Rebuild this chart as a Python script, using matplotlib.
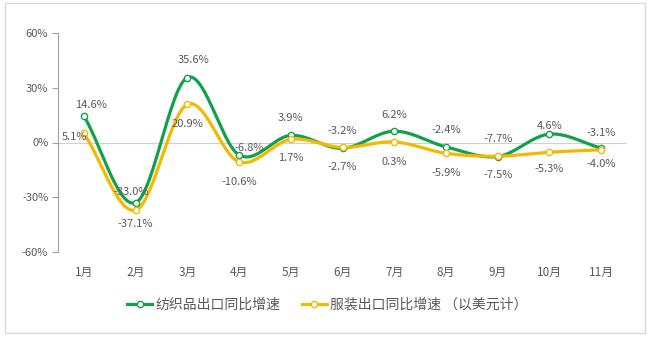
import numpy as np
import matplotlib.pyplot as plt
from matplotlib.patches import Rectangle

plt.rcParams['font.family'] = ['Noto Sans CJK SC', 'DejaVu Sans']

months = ['1月', '2月', '3月', '4月', '5月', '6月', '7月', '8月', '9月', '10月', '11月']
textile = [14.6, -33.0, 35.6, -6.8, 3.9, -3.2, 6.2, -2.4, -7.7, 4.6, -3.1]
apparel = [5.1, -37.1, 20.9, -10.6, 1.7, -2.7, 0.3, -5.9, -7.5, -5.3, -4.0]

# label offsets in pixels (dx, dy) for each point
textile_off = [(7, 11), (-4, 11), (6, 18), (10, 7), (0, 17), (0, 17),
               (0, 16), (0, 17), (0, 18), (0, 8), (0, 15)]
apparel_off = [(-9, -4), (0, -14), (0, -20), (0, -20), (0, -19), (0, -20),
               (0, -20), (0, -20), (0, -19), (0, -17), (0, -14)]

green = '#12a14a'
yellow = '#f5b800'
grey = '#595959'


def smooth(y, n=30):
    # Catmull-Rom curve through the points, like a smoothed line chart
    y = np.asarray(y, dtype=float)
    x = np.arange(len(y), dtype=float)
    px = np.concatenate([[2 * x[0] - x[1]], x, [2 * x[-1] - x[-2]]])
    py = np.concatenate([[2 * y[0] - y[1]], y, [2 * y[-1] - y[-2]]])
    xs, ys = [], []
    t = np.linspace(0, 1, n, endpoint=False)
    for i in range(1, len(px) - 2):
        for arr, out in ((px, xs), (py, ys)):
            p0, p1, p2, p3 = arr[i - 1], arr[i], arr[i + 1], arr[i + 2]
            out.extend(0.5 * ((2 * p1) + (-p0 + p2) * t
                              + (2 * p0 - 5 * p1 + 4 * p2 - p3) * t ** 2
                              + (-p0 + 3 * p1 - 3 * p2 + p3) * t ** 3))
    xs.append(x[-1])
    ys.append(y[-1])
    return np.array(xs), np.array(ys)


fig = plt.figure(figsize=(6.55, 3.40), dpi=100)
ax = fig.add_axes([58 / 655, 1 - 252 / 340, (627 - 58) / 655, (252 - 33) / 340])

x = np.arange(len(months))
ax.set_xlim(-0.5, len(months) - 0.5)
ax.set_ylim(-60, 60)

ax.axhline(0, color='#d0d0d0', lw=0.8, zorder=1)

for vals, col, offs in [(textile, green, textile_off),
                        (apparel, yellow, apparel_off)]:
    sx, sy = smooth(vals)
    ax.plot(sx, sy, color=col, lw=2.3, zorder=3, solid_capstyle='round')
    ax.plot(x, vals, linestyle='none', marker='o', ms=4.5, mfc='white',
            mec=col, mew=1, zorder=4)
    for xi, v, (dx, dy) in zip(x, vals, offs):
        ax.annotate(f'{v:.1f}%', (xi, v), xytext=(dx, dy),
                    textcoords='offset pixels', ha='center', va='center',
                    fontsize=8, color=grey, zorder=5)

# legend handles: line with open marker
handles = [
    plt.Line2D([], [], color=green, lw=2.3, marker='o', ms=4.5, mfc='white', mec=green, mew=1),
    plt.Line2D([], [], color=yellow, lw=2.3, marker='o', ms=4.5, mfc='white', mec=yellow, mew=1),
]
fig.legend(handles, ['纺织品出口同比增速', '服装出口同比增速 （以美元计）'],
           loc='center', bbox_to_anchor=(0.5, 1 - 305 / 340), ncol=2,
           frameon=False, fontsize=10, labelcolor=grey, handlelength=1.8,
           handletextpad=0.25, columnspacing=1.5)

ax.set_xticks(x)
ax.set_xticklabels(months)
ax.set_yticks([-60, -30, 0, 30, 60])
ax.set_yticklabels(['-60%', '-30%', '0%', '30%', '60%'])
ax.tick_params(axis='x', length=0, pad=10, labelsize=8.5, colors=grey)
ax.tick_params(axis='y', length=4, width=0.8, color='#a0a0a0', pad=3,
               labelsize=8, labelcolor=grey)

for s in ['top', 'right', 'bottom']:
    ax.spines[s].set_visible(False)
ax.spines['left'].set_color('#a0a0a0')
ax.spines['left'].set_linewidth(0.8)

# light outer border
fig.add_artist(Rectangle((5 / 655, 1 - 333 / 340), 640 / 655, 330 / 340,
                         transform=fig.transFigure, fill=False,
                         edgecolor='#d9d9d9', lw=1))

fig.savefig('out.png', dpi=100)
